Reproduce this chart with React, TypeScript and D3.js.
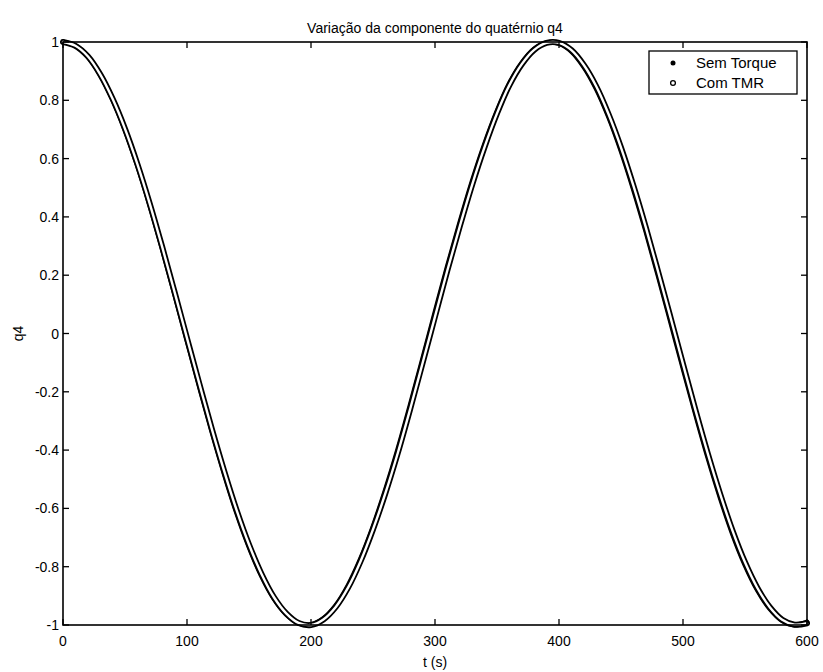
import React from "react";
import * as d3 from "d3";

const tValues = [0,10,20,30,40,50,60,70,80,90,100,110,120,130,140,150,160,170,180,190,200,210,220,230,240,250,260,270,280,290,300,310,320,330,340,350,360,370,380,390,400,410,420,430,440,450,460,470,480,490,500,510,520,530,540,550,560,570,580,590,600];

const semTorque = [1.000,0.987,0.950,0.888,0.803,0.699,0.577,0.440,0.291,0.135,-0.024,-0.182,-0.336,-0.481,-0.615,-0.732,-0.831,-0.909,-0.963,-0.994,-0.999,-0.978,-0.933,-0.864,-0.773,-0.663,-0.537,-0.398,-0.246,-0.088,0.072,0.230,0.380,0.522,0.650,0.763,0.858,0.928,0.976,0.998,0.995,0.968,0.915,0.840,0.743,0.627,0.495,0.351,0.198,0.040,-0.119,-0.275,-0.425,-0.563,-0.688,-0.794,-0.880,-0.944,-0.985,-1.000,-0.990];

const comTMR = [1.000,0.987,0.951,0.889,0.805,0.702,0.581,0.445,0.297,0.142,-0.016,-0.173,-0.327,-0.472,-0.606,-0.724,-0.824,-0.904,-0.960,-0.993,-1.000,-0.981,-0.938,-0.871,-0.781,-0.672,-0.548,-0.410,-0.259,-0.101,0.058,0.217,0.368,0.511,0.640,0.755,0.852,0.924,0.973,0.997,0.997,0.972,0.921,0.848,0.752,0.638,0.507,0.364,0.211,0.054,-0.105,-0.262,-0.412,-0.551,-0.677,-0.785,-0.873,-0.939,-0.982,-0.999,-0.994];

const xTicks = [0, 100, 200, 300, 400, 500, 600];
const yTicks = [-1, -0.8, -0.6, -0.4, -0.2, 0, 0.2, 0.4, 0.6, 0.8, 1];
const seriesNames = ["Sem Torque", "Com TMR"];

const W = 823, H = 672;
const M = { left: 63, right: 807, top: 42, bottom: 625 };
const FONT = "'Liberation Sans', Arial, sans-serif";
const FS = 14;

export default function App() {
  const x = d3.scaleLinear().domain([0, 600]).range([M.left, M.right]);
  const y = d3.scaleLinear().domain([-1, 1]).range([M.bottom, M.top]);
  const line = d3
    .line<number>()
    .x((_, i) => x(tValues[i]))
    .y((d) => y(d))
    .curve(d3.curveCatmullRom);
  const p1 = line(semTorque) || "";
  const p2 = line(comTMR) || "";
  const tl = 6;
  const fmt = (v: number) => (v === 0 ? "0" : String(Math.round(v * 10) / 10));

  return (
    <svg width={W} height={H} style={{ position: "absolute", left: 0, top: 0, background: "#fff" }} fontFamily={FONT}>
      <rect x={0} y={0} width={W} height={H} fill="#fff" />
      <defs>
        <clipPath id="plotclip">
          <rect x={M.left - 4} y={M.top - 4} width={M.right - M.left + 8} height={M.bottom - M.top + 8} />
        </clipPath>
      </defs>
      <g clipPath="url(#plotclip)">
        <path d={p1} fill="none" stroke="#000" strokeWidth={5} strokeLinejoin="round" strokeLinecap="round" />
        <path d={p2} fill="none" stroke="#000" strokeWidth={6} strokeLinejoin="round" strokeLinecap="round" />
        <path d={p2} fill="none" stroke="#fff" strokeWidth={2.4} strokeLinejoin="round" strokeLinecap="round" />
      </g>
      <rect x={M.left} y={M.top} width={M.right - M.left} height={M.bottom - M.top} fill="none" stroke="#000" strokeWidth={1.6} />
      {xTicks.map((t) => (
        <g key={"x" + t}>
          <line x1={x(t)} x2={x(t)} y1={M.bottom} y2={M.bottom - tl} stroke="#000" strokeWidth={1.3} />
          <line x1={x(t)} x2={x(t)} y1={M.top} y2={M.top + tl} stroke="#000" strokeWidth={1.3} />
          <text x={x(t)} y={M.bottom + 21} fontSize={FS} textAnchor="middle" fill="#000">{t}</text>
        </g>
      ))}
      {yTicks.map((v) => (
        <g key={"y" + v}>
          <line x1={M.left} x2={M.left + tl} y1={y(v)} y2={y(v)} stroke="#000" strokeWidth={1.3} />
          <line x1={M.right} x2={M.right - tl} y1={y(v)} y2={y(v)} stroke="#000" strokeWidth={1.3} />
          <text x={M.left - 4} y={y(v) + 5} fontSize={FS} textAnchor="end" fill="#000">{fmt(v)}</text>
        </g>
      ))}
      <text x={(M.left + M.right) / 2} y={33} fontSize={FS} textAnchor="middle" fill="#000">Variação da componente do quatérnio q4</text>
      <text x={(M.left + M.right) / 2} y={667} fontSize={FS} textAnchor="middle" fill="#000">t (s)</text>
      <text transform={`translate(23, ${y(0)}) rotate(-90)`} fontSize={FS} textAnchor="middle" fill="#000">q4</text>
      <g>
        <rect x={649} y={51} width={148} height={43} fill="#fff" stroke="#000" strokeWidth={1.3} />
        <circle cx={673} cy={63} r={2.5} fill="#000" />
        <text x={696} y={68} fontSize={FS + 1} fill="#000">{seriesNames[0]}</text>
        <circle cx={673} cy={83} r={2.4} fill="#fff" stroke="#000" strokeWidth={1.3} />
        <text x={696} y={88} fontSize={FS + 1} fill="#000">{seriesNames[1]}</text>
      </g>
    </svg>
  );
}
